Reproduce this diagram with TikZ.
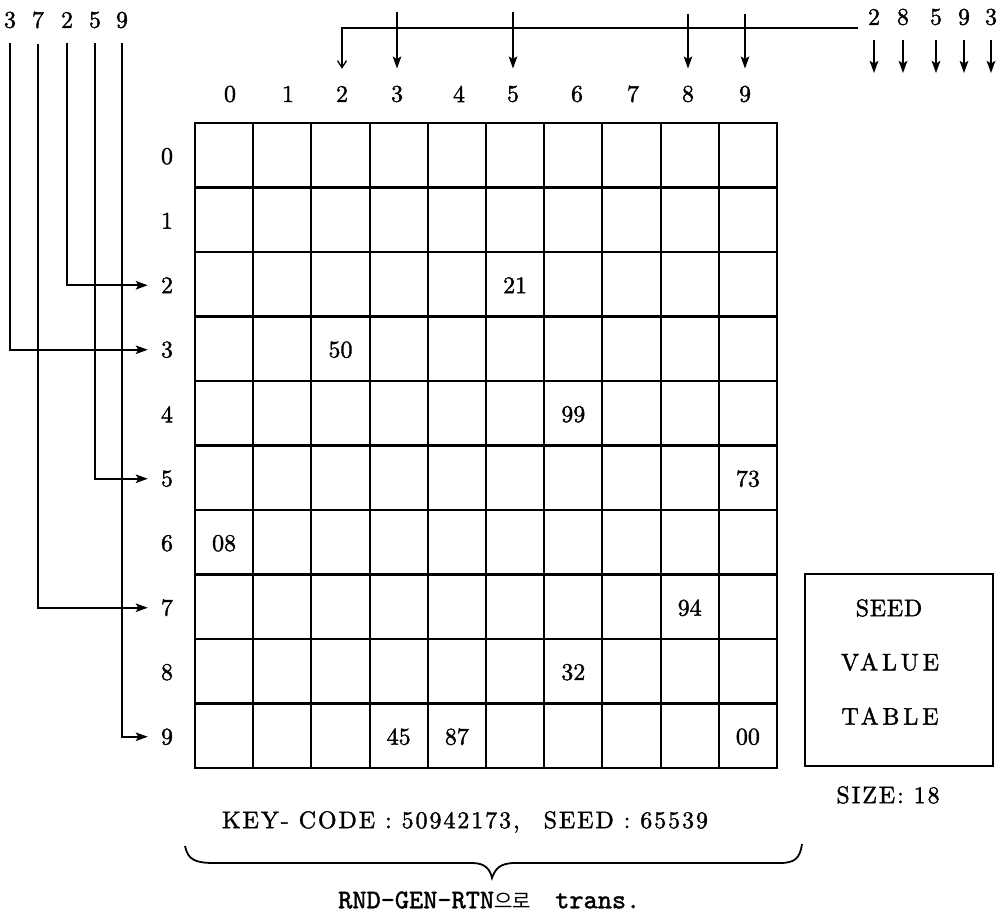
\documentclass[tikz,border=0pt]{standalone}
\usepackage{fontspec}
\newfontfamily\lmf{lmroman10-regular.otf}[FakeBold=1.5]
\newfontfamily\lmm{lmmono10-regular.otf}[FakeBold=1.5]
\newfontfamily\krfont{Noto Sans CJK KR}
\usetikzlibrary{arrows.meta}
\newcommand\lsp[1]{\addfontfeature{LetterSpace=#1}}
\begin{document}
\begin{tikzpicture}[x=1pt,y=-1pt,
  lbl/.style={inner sep=0pt, font=\lmf\fontsize{24}{28}\selectfont},
  gridline/.style={line width=2.1pt, line cap=rect},
  arr/.style={line width=1.9pt, -{Stealth[length=12pt,width=8.5pt,inset=2.5pt]}},
  thinarr/.style={line width=1.3pt, -{Straight Barb[length=7pt,width=9pt,line width=1.3pt]}},
  bracestyle/.style={line width=1.8pt}]
\fill[white] (0,0) rectangle (1001,917);
\useasboundingbox (0,0) rectangle (1001,917);

% grid
\foreach \i in {0,...,10} {
  \draw[gridline] ({195+58.2*\i},123) -- ({195+58.2*\i},768);
  \draw[gridline] (195,{123+64.5*\i}) -- (777,{123+64.5*\i});
}

% cell values
\foreach \r/\c/\v in {2/5/21, 3/2/50, 4/6/99, 5/9/73, 6/0/08, 7/8/94, 8/6/32, 9/3/45, 9/4/87, 9/9/00}
  \node[lbl] (v\v) at ({195+58.2*(\c+.5)},{124+64.5*(\r+.5)}) {\v};

% column labels
\foreach \c/\x in {0/230,1/288,2/342,3/397,4/459,5/513,6/577,7/633,8/688,9/745}
  \node[lbl] (c\c) at (\x,94) {\c};
% row labels
\foreach \r in {0,...,9}
  \node[lbl] (r\r) at (167,{124+64.5*(\r+.5)}) {\r};

% top-left sequence
\foreach \n/\x in {3/10,7/38,2/67,5/95,9/122}
  \node[lbl] (L\n) at (\x,20) {\n};
\foreach \n in {3,7,2,5,9}
  \draw[arr, shorten <=15pt, shorten >=13pt] (L\n.south) |- (r\n.west);

% top sequence
\coordinate (hr) at (858,28);
\draw[thinarr, shorten >=17pt] (hr) -| (c2.north);
\foreach \n/\y in {3/12,5/12,8/14,9/14}
  \draw[arr, shorten >=17pt] (c\n.north |- 0,\y) -- (c\n.north);

% top-right sequence
\foreach \n/\x in {2/874,8/903,5/936,9/964,3/991} {
  \node[lbl] (R\n) at (\x,17) {\n};
  \coordinate (E\n) at (\x,73);
  \draw[arr, shorten <=15pt] (R\n.south) -- (E\n);
}

% seed value table
\node[draw, line width=1.9pt, minimum width=188pt, minimum height=192pt, inner sep=0pt] (box) at (899,670) {};
\node[lbl, font=\lmf\fontsize{24}{28}\selectfont\lsp{3}] (seed) at (889,608) {SEED};
\node[lbl, font=\lmf\fontsize{24}{28}\selectfont\lsp{16}] (value) at (890,662) {VALUE};
\node[lbl, font=\lmf\fontsize{24}{28}\selectfont\lsp{16}] (table) at (890,716) {TABLE};
\node[lbl, font=\lmf\fontsize{24}{28}\selectfont\lsp{8}] (size) at (888,795) {SIZE:\ 18};

% key code line
\node[lbl, font=\lmf\fontsize{24}{28}\selectfont\lsp{8}] (key) at (465,822) {KEY- CODE : 50942173,\quad SEED : 65539};

% brace
\draw[bracestyle] (185,846) .. controls (188,860) and (195,863) .. (215,863) -- (472,863)
  .. controls (485,863) and (490,869) .. (492,878)
  .. controls (495,869) and (500,863) .. (515,863) -- (780,863)
  .. controls (795,863) and (800,858) .. (802,844);

% bottom caption
\node[inner sep=0pt, anchor=west, font=\lmm\fontsize{27}{30}\selectfont] (cap) at (338,900) {RND-GEN-RTN{\krfont\fontsize{20}{22}\selectfont 으로}\hspace{0.9em}trans.};
\end{tikzpicture}
\end{document}
